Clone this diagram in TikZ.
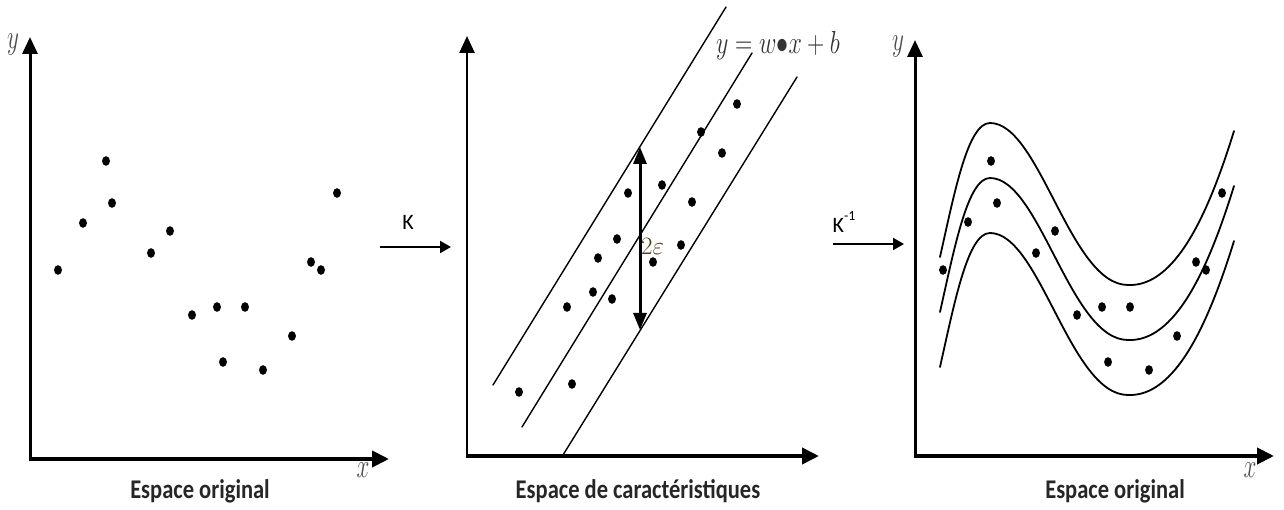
\RequirePackage{fix-cm}
\documentclass[tikz,border=0pt]{standalone}
\usepackage{fontspec}
\newfontfamily\carlito{Carlito}
\usetikzlibrary{arrows.meta}
\begin{document}
\begin{tikzpicture}[x=1pt,y=-1pt,
  yax/.style={line width=3pt,-{Triangle[length=17pt,width=15pt]}},
  xax/.style={line width=4pt,-{Triangle[length=17pt,width=16pt]}},
  maparrow/.style={line width=2pt,-{Triangle[length=11pt,width=12pt]}},
  band/.style={line width=1.4pt,line cap=round},
  curve/.style={line width=1.8pt,line cap=round},
  pt/.style={shape=circle,fill=black,inner sep=0pt,minimum size=9.6pt,xscale=0.82},
  caption/.style={font=\carlito\bfseries\fontsize{25}{25}\selectfont,xscale=0.9,yscale=1.08,inner sep=0pt,text=black!85},
  maplab/.style={font=\carlito\fontsize{22}{22}\selectfont,inner sep=0pt},
  axlab/.style={font=\fontsize{34}{34}\selectfont,xscale=0.68,text=black!70,inner sep=0pt},
]
\useasboundingbox (0,0) rectangle (1284,510);
% ---------- left panel ----------
\coordinate (o1b) at (30,461);
\coordinate (y1) at (30,37);
\coordinate (o1l) at (28.5,459);
\coordinate (x1) at (389,459);
\draw[yax] (o1b) -- (y1);
\draw[xax] (o1l) -- (x1);
\node[axlab] (ly1) at (13,44) {$y$};
\node[axlab] (lx1) at (363,470) {$x$};
\node[caption] (c1) at (200,491) {Espace original};
\foreach \px/\py [count=\i] in {58/270,83/223,106/161,112/203,151/253,170/231,192/315,217/307,245/307,223/362,263/370,292/336,311/262,321/270,337/193}
  \node[pt] (a\i) at (\px,\py) {};
% ---------- K arrow ----------
\coordinate (k1s) at (380,247);
\coordinate (k1e) at (451,247);
\draw[maparrow] (k1s) -- (k1e);
\node[maplab] (K) at (408,222) {K};
% ---------- middle panel ----------
\coordinate (o2b) at (467,458);
\coordinate (y2) at (467,36);
\coordinate (o2l) at (465.5,456);
\coordinate (x2) at (819,456);
\draw[yax,line width=2.6pt] (o2b) -- (y2);
\draw[xax] (o2l) -- (x2);
\coordinate (u1) at (493,385); \coordinate (u2) at (726,7);
\coordinate (m1) at (522,427); \coordinate (m2) at (752,53);
\coordinate (l1) at (563,455); \coordinate (l2) at (797,77);
\draw[band] (u1) -- (u2);
\draw[band] (m1) -- (m2);
\draw[band] (l1) -- (l2);
\foreach \px/\py [count=\i] in {519/392,572/384,567/307,593/292,612/299,598/258,617/239,628/193,653/262,662/185,681/245,692/202,701/132,722/153,737/104}
  \node[pt] (b\i) at (\px,\py) {};
\coordinate (et) at (640,147);
\coordinate (eb) at (640,330);
\draw[line width=3pt,{Triangle[length=17pt,width=13pt]}-{Triangle[length=17pt,width=13pt]}] (et) -- (eb);
\node[font=\fontsize{25}{25}\selectfont,text={rgb,255:red,80;green,62;blue,30},inner sep=0pt,anchor=west] (eps) at (641,246) {$2\varepsilon$};
\node[font=\fontsize{32}{32}\selectfont,xscale=0.75,text=black!80,inner sep=0pt] (eq) at (778,46) {$y = w{\bullet}x + b$};
\node[caption] (c2) at (638,491) {Espace de caractéristiques};
% ---------- K^-1 arrow ----------
\coordinate (k2s) at (833,244);
\coordinate (k2e) at (904,244);
\draw[maparrow] (k2s) -- (k2e);
\node[maplab] (Kinv) at (844,222) {K\raisebox{1.1ex}{\fontsize{14}{14}\selectfont -1}};
% ---------- right panel ----------
\coordinate (o3b) at (915,458);
\coordinate (y3) at (915,40);
\coordinate (o3l) at (913.5,456);
\coordinate (x3) at (1274,456);
\draw[yax] (o3b) -- (y3);
\draw[xax] (o3l) -- (x3);
\node[axlab] (ly3) at (898,46) {$y$};
\node[axlab] (lx3) at (1250,470) {$x$};
\node[caption] (c3) at (1115,491) {Espace original};
\foreach \d in {0,55,110}{
  \draw[curve,shift={(0,\d)}] (940,257) .. controls (955,190) and (968,123) .. (990,123)
     .. controls (1040,123) and (1070,285) .. (1128,285)
     .. controls (1175,287) and (1208,215) .. (1234,131);
}
\foreach \px/\py [count=\i] in {943/270,968/222,991/161,997/203,1036/253,1055/231,1077/315,1102/307,1130/307,1108/362,1149/370,1177/336,1196/262,1206/270,1222/193}
  \node[pt] (c\i) at (\px,\py) {};
\end{tikzpicture}
\end{document}
